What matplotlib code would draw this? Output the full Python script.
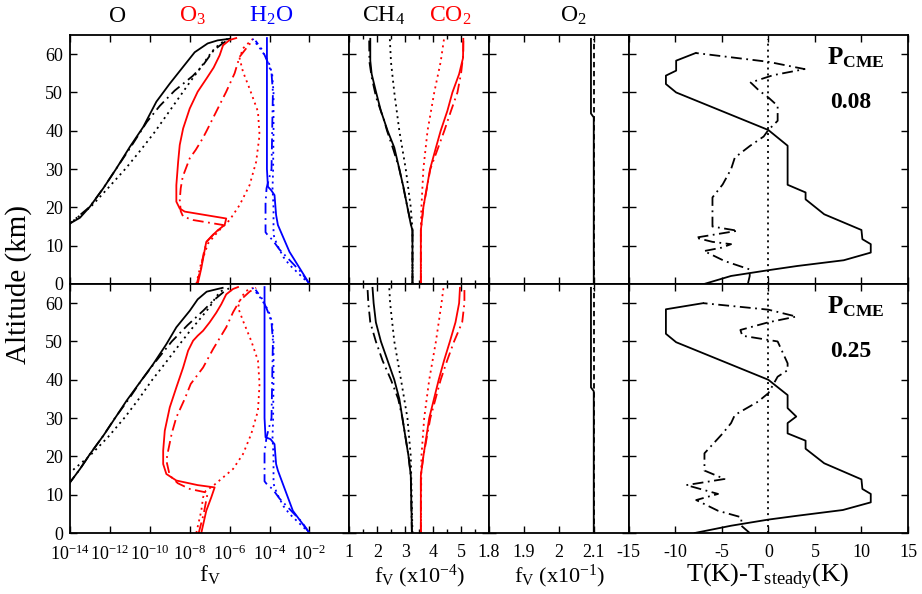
import numpy as np
import matplotlib
matplotlib.use("Agg")
import matplotlib.pyplot as plt
from matplotlib.ticker import MultipleLocator, FixedLocator, NullLocator

plt.rcParams['font.family'] = ['Liberation Serif', 'DejaVu Serif']
plt.rcParams['mathtext.fontset'] = 'custom'
plt.rcParams['mathtext.rm'] = 'Liberation Serif'
plt.rcParams['mathtext.it'] = 'Liberation Serif:italic'
plt.rcParams['mathtext.bf'] = 'Liberation Serif:bold'
plt.rcParams['axes.unicode_minus'] = False

# ---------------- data: top row (P_CME = 0.08) ----------------
# panel 1 (log10 of f_V)
t_O_sol_alt = [14.5, 15.8, 17.3, 20.2, 25, 30.2, 35.8, 41, 47.6, 52.3, 56.7, 60.5, 62.8, 63.6, 64]
t_O_sol_lg = [-14.3, -14, -13.5, -13, -12.33, -11.67, -11, -10.33, -9.67, -9, -8.33, -7.75, -7.1, -6.6, -6.0]
t_O_dd_alt = [14.5, 15.8, 20.2, 25, 30.2, 35.8, 42.3, 46.5, 50.5, 54.3, 57, 61, 62.8, 64]
t_O_dd_lg = [-14.3, -14, -13, -12.33, -11.67, -10.95, -10.15, -9.5, -8.75, -7.85, -7.35, -6.8, -6.35, -6.0]
t_O_dot_alt = [14.5, 15.8, 20.2, 25, 30.2, 35, 39.7, 44.5, 49.3, 53, 56.5, 59.5, 61.5, 63, 64]
t_O_dot_lg = [-14.3, -14, -12.95, -12.1, -11.2, -10.45, -9.75, -9.1, -8.45, -7.95, -7.45, -7.05, -6.75, -6.4, -6.1]

t_O3_sol_alt = [0, 4.1, 8, 11, 12.5, 14, 15.4, 17.1, 18.9, 19.7, 21.5, 25.8, 31.9, 36.3, 40.6, 45.8, 50.2, 53.7, 56.5, 59.7, 62.3, 63.7, 64.2]
t_O3_sol_lg = [-7.6, -7.42, -7.28, -7.17, -6.9, -6.6, -6.25, -6.17, -8.25, -8.5, -8.67, -8.67, -8.58, -8.5, -8.33, -8.0, -7.6, -7.15, -6.8, -6.5, -6.33, -6.0, -5.67]
t_O3_dd_alt = [0, 4, 8, 11, 13, 14.8, 15.4, 16.7, 17.6, 19, 22, 25, 28, 32.8, 35, 38, 40, 45, 50.2, 55, 59.3, 61.5, 63.7]
t_O3_dd_lg = [-7.65, -7.45, -7.3, -7.15, -6.8, -6.4, -6.33, -7.83, -8.33, -8.45, -8.5, -8.45, -8.35, -8.0, -7.7, -7.35, -7.15, -6.67, -6.17, -5.75, -5.5, -5.17, -4.83]
t_O3_dot_alt = [0, 5, 10.6, 13.7, 16.7, 20.6, 25.8, 31.9, 38.9, 45, 51, 55.4, 58.9, 61.5, 63.2, 64]
t_O3_dot_lg = [-7.67, -7.45, -7.08, -6.58, -6.0, -5.5, -5.0, -4.67, -4.5, -4.58, -5.0, -5.33, -5.5, -5.33, -5.0, -4.83]

t_H2O_sol_alt = [0, 2.8, 8.4, 15.4, 18, 23.2, 24.5, 25.4, 30, 45, 58.9, 64.2]
t_H2O_sol_lg = [-2.0, -2.33, -3.0, -3.58, -3.67, -3.75, -3.92, -4.08, -4.13, -4.13, -4.13, -4.13]
t_H2O_dd_alt = [0, 3, 6, 9, 11.5, 12.5, 13.5, 21, 25, 30, 45, 50, 55, 58, 61, 63.5]
t_H2O_dd_lg = [-2.0, -2.4, -2.95, -3.5, -3.85, -4.05, -4.2, -4.2, -4.15, -3.9, -3.85, -3.83, -3.9, -4.1, -4.35, -4.7]
t_H2O_dot_alt = [0, 3, 5, 7, 10, 12, 13, 20, 25, 30, 40, 50, 55, 58, 61, 63, 64]
t_H2O_dot_lg = [-2.0, -2.6, -3.0, -3.3, -3.6, -3.75, -3.8, -3.8, -3.85, -3.82, -3.8, -3.8, -3.87, -4.05, -4.4, -4.7, -4.85]

# panel 2 (x1e-4)
t_CH4_sol_alt = [0, 14, 15.6, 20, 25.2, 30, 35.6, 40, 45.2, 50, 54.8, 58.3, 64]
t_CH4_sol = [3.26, 3.26, 3.2, 3.08, 2.94, 2.79, 2.61, 2.37, 2.13, 1.96, 1.8, 1.75, 1.75]
t_CH4_dd_alt = [0, 14, 20, 25, 30, 35, 40, 42.6, 48.7, 54, 58, 64]
t_CH4_dd = [3.26, 3.26, 3.08, 2.94, 2.79, 2.58, 2.35, 2.25, 1.96, 1.8, 1.72, 1.71]
t_CH4_dot_alt = [0, 14, 20, 30, 40, 50, 58, 64]
t_CH4_dot = [3.26, 3.26, 3.2, 3.02, 2.79, 2.61, 2.49, 2.45]
t_CO2_sol_alt = [0, 14, 20, 30, 35.6, 40, 45.2, 50, 54.8, 59, 64]
t_CO2_sol = [3.56, 3.56, 3.65, 3.89, 4.1, 4.27, 4.51, 4.69, 4.93, 5.07, 5.08]
t_CO2_dd_alt = [0, 14, 20, 30, 35, 40, 45, 50, 55, 60, 64]
t_CO2_dd = [3.56, 3.56, 3.65, 3.9, 4.15, 4.4, 4.63, 4.87, 5.0, 5.08, 5.08]
t_CO2_dot_alt = [0, 14, 20, 30, 40, 50, 58, 64]
t_CO2_dot = [3.56, 3.56, 3.58, 3.65, 3.8, 4.04, 4.27, 4.39]

# panel 3 (x1e-1)
t_O2_sol_alt = [0, 43.5, 44.5, 64]
t_O2_sol = [2.1, 2.1, 2.092, 2.092]
t_O2_dot_alt = [0, 64]
t_O2_dot = [2.1, 2.1]

# panel 4 (K)
t_T_sol_alt = [0, 2.1, 3.6, 4.7, 6.2, 8.2, 10.4, 11.7, 14.1, 18.2, 22.1, 23.9, 25.9, 36.1, 40.2, 50, 52.2, 54.4, 55.7, 58.3, 60.3]
t_T_sol = [-6.9, -4, 0, 3.1, 8.1, 11, 11, 10.1, 10, 6, 4, 4, 2.07, 2.07, 0, -9.9, -11, -11, -9.9, -9.9, -7.8]
t_T_dd_alt = [0, 2.1, 3.8, 6, 8.6, 9.5, 10.4, 11, 12.1, 13.9, 15, 16.5, 22.6, 26, 30, 33, 36, 38.5, 40.2, 42.6, 46.5, 48.7, 50.5, 52.6, 54.5, 56.1, 58, 60.3]
t_T_dd = [-2.2, -2.0, -2.0, -4.7, -6.9, -5, -4, -6, -7.8, -3.3, -6, -6, -6, -4.9, -4, -3.6, -2, -0.5, 0, 1, 1, 0, -1, -1.9, 0.5, 3.9, 0, -7.8]
t_T_ref_alt = [0, 64]
t_T_ref = [0, 0]

# ---------------- data: bottom row (P_CME = 0.25) ----------------
b_O_sol_alt = [12.5, 13.2, 16.7, 20.6, 25.4, 29.3, 34.5, 39.3, 44.1, 49.3, 53.7, 58, 61, 63, 63.7, 64]
b_O_sol_lg = [-14.1, -14, -13.5, -13, -12.33, -11.83, -11.17, -10.5, -9.83, -9.17, -8.67, -8.0, -7.6, -7.15, -6.6, -6.35]
b_O_dd_alt = [12.5, 13.2, 16.7, 20.6, 25.4, 30, 35, 40, 45, 50, 54.3, 58, 60.6, 62.8, 64]
b_O_dd_lg = [-14.1, -14, -13.5, -13, -12.33, -11.75, -11.05, -10.4, -9.67, -8.9, -8.1, -7.33, -6.83, -6.33, -6.0]
b_O_dot_alt = [14.5, 15.8, 20.2, 25, 30.2, 35, 39.7, 44.5, 49.3, 53, 56.3, 59, 61.5, 62.8, 64]
b_O_dot_lg = [-14.3, -14, -13, -12.1, -11.25, -10.55, -9.92, -9.2, -8.5, -7.95, -7.42, -7.0, -6.7, -6.5, -6.2]

b_O3_sol_alt = [0, 5.8, 9.3, 11.9, 12.5, 13.7, 15.4, 18, 21.5, 26.7, 32.8, 38, 43.2, 47.6, 50.2, 51.5, 52.8, 55, 57.5, 59.7, 62.3, 63.7, 64.2]
b_O3_sol_lg = [-7.42, -7.17, -6.92, -6.75, -7.6, -8.67, -9.17, -9.33, -9.33, -9.25, -9.0, -8.67, -8.33, -8.08, -7.83, -7.6, -7.33, -7.0, -6.67, -6.42, -6.17, -5.83, -5.58]
b_O3_dd_alt = [0, 5, 10.5, 11.5, 13, 15, 18.9, 21.5, 26, 30.2, 35, 38.9, 43.2, 48, 53.7, 57.6, 60.6, 63, 64]
b_O3_dd_lg = [-7.55, -7.3, -7.1, -8.0, -8.6, -9.0, -9.17, -9.08, -8.9, -8.67, -8.25, -7.95, -7.33, -6.83, -6.17, -5.83, -5.5, -5.0, -4.67]
b_O3_dot_alt = [0, 5.8, 9.3, 11, 12.3, 14.5, 16.7, 20.6, 25.8, 31.9, 38.9, 45, 50.2, 55.4, 58.9, 61.5, 63.2, 64]
b_O3_dot_lg = [-7.67, -7.42, -7.33, -7.2, -6.83, -6.33, -5.83, -5.33, -4.92, -4.58, -4.5, -4.58, -4.92, -5.33, -5.58, -5.42, -5.17, -4.83]

b_H2O_sol_alt = [0, 5.8, 16.3, 18, 23.2, 24.5, 25, 30, 45, 60, 64.2]
b_H2O_sol_lg = [-2.0, -2.83, -3.58, -3.67, -3.75, -3.95, -4.2, -4.25, -4.25, -4.25, -4.25]
b_H2O_dd_alt = [0, 3, 6, 9, 11.5, 12.5, 13.5, 21, 25, 30, 45, 50, 55, 58, 61, 63.5]
b_H2O_dd_lg = [-2.0, -2.4, -2.95, -3.5, -3.85, -4.1, -4.25, -4.25, -4.15, -3.9, -3.85, -3.83, -3.9, -4.1, -4.35, -4.7]
b_H2O_dot_alt = [0, 3, 5, 7, 10, 12, 13, 20, 25, 30, 40, 50, 55, 58, 61, 63, 64]
b_H2O_dot_lg = [-2.0, -2.6, -3.0, -3.3, -3.6, -3.75, -3.8, -3.8, -3.85, -3.82, -3.8, -3.8, -3.87, -4.05, -4.4, -4.7, -4.85]

b_CH4_sol_alt = [0, 15, 20, 30, 35, 40, 45, 50, 55, 60, 64]
b_CH4_sol = [3.24, 3.2, 3.12, 2.9, 2.79, 2.61, 2.37, 2.13, 1.95, 1.87, 1.83]
b_CH4_dd_alt = [0, 15, 20, 30, 35, 40, 45, 50, 55, 60, 64]
b_CH4_dd = [3.24, 3.2, 3.12, 2.9, 2.75, 2.49, 2.19, 1.95, 1.75, 1.68, 1.65]
b_CH4_dot_alt = [0, 20, 30, 40, 50, 60, 64]
b_CH4_dot = [3.26, 3.2, 3.08, 2.85, 2.61, 2.46, 2.43]
b_CO2_sol_alt = [0, 15, 20, 30, 40, 45, 50, 55, 60, 64]
b_CO2_sol = [3.56, 3.56, 3.65, 3.86, 4.2, 4.39, 4.6, 4.8, 4.93, 4.96]
b_CO2_dd_alt = [0, 15, 20, 30, 40, 45, 50, 55, 60, 64]
b_CO2_dd = [3.56, 3.56, 3.65, 3.9, 4.27, 4.5, 4.75, 5.04, 5.12, 5.12]
b_CO2_dot_alt = [0, 20, 30, 40, 50, 60, 64]
b_CO2_dot = [3.56, 3.58, 3.68, 3.86, 4.1, 4.3, 4.37]

b_O2_sol_alt = [0, 37, 38, 64]
b_O2_sol = [2.1, 2.1, 2.092, 2.092]
b_O2_dot_alt = [0, 64]
b_O2_dot = [2.1, 2.1]

b_T_sol_alt = [0, 1.9, 3.5, 4.5, 6, 8, 10.2, 11.5, 14, 18.2, 22, 24.1, 26, 28.7, 30.4, 32.6, 36, 40, 49.8, 52, 58.4, 60]
b_T_sol = [-7.9, -4, 0, 3.1, 8, 11, 11, 10.1, 10, 6, 4, 4, 2.07, 2.07, 3, 2.07, 2.07, 0, -9.9, -11, -11, -7]
b_T_dd_alt = [0, 1.9, 4.1, 5.8, 8.6, 10.2, 12.5, 14.1, 16.3, 20.8, 26, 28.7, 30.8, 34.3, 36.5, 40.8, 42.5, 44.3, 50, 51.5, 53, 55, 56.5, 58.3, 60]
b_T_dd = [-2, -2.9, -2.9, -5.4, -7.75, -5.4, -8.8, -4.7, -6.86, -6.86, -4.9, -4, -3.6, -1.1, 0, 1, 2.07, 2.07, 1, -2.8, -3, 0, 3, 0, -7]
b_T_ref_alt = [0, 64]
b_T_ref = [0, 0]

# ---------------- styles ----------------
LW = 1.3
SOL = '-'
DD = (0, (6, 2.5, 1, 2.5))
DOT = (0, (1.1, 2.2))

fig = plt.figure(figsize=(9.22, 5.94), dpi=100)
gs = fig.add_gridspec(2, 4, width_ratios=[2, 1, 1, 2],
                      left=70/922, right=908/922, top=1-35/594, bottom=1-533/594,
                      wspace=0, hspace=0)

FS_TICK = 13


def style_axis(ax, bottom_row, first_col):
    ax.set_ylim(0, 65)
    ax.yaxis.set_major_locator(MultipleLocator(10))
    ax.yaxis.set_minor_locator(NullLocator())
    ax.tick_params(which='both', direction='in', top=True, right=True,
                   labelsize=FS_TICK, width=1.0)
    ax.tick_params(axis='x', pad=8)
    ax.tick_params(axis='y', pad=5)
    ax.tick_params(which='major', length=5)
    ax.tick_params(which='minor', length=3)
    if not first_col:
        ax.tick_params(labelleft=False)
    if not bottom_row:
        ax.tick_params(labelbottom=False)
    for s in ax.spines.values():
        s.set_linewidth(1.3)


rows = [
    dict(O=[(t_O_sol_lg, t_O_sol_alt, SOL), (t_O_dd_lg, t_O_dd_alt, DD), (t_O_dot_lg, t_O_dot_alt, DOT)],
         O3=[(t_O3_sol_lg, t_O3_sol_alt, SOL), (t_O3_dd_lg, t_O3_dd_alt, DD), (t_O3_dot_lg, t_O3_dot_alt, DOT)],
         H2O=[(t_H2O_sol_lg, t_H2O_sol_alt, SOL), (t_H2O_dd_lg, t_H2O_dd_alt, DD), (t_H2O_dot_lg, t_H2O_dot_alt, DOT)],
         CH4=[(t_CH4_sol, t_CH4_sol_alt, SOL), (t_CH4_dd, t_CH4_dd_alt, DD), (t_CH4_dot, t_CH4_dot_alt, DOT)],
         CO2=[(t_CO2_sol, t_CO2_sol_alt, SOL), (t_CO2_dd, t_CO2_dd_alt, DD), (t_CO2_dot, t_CO2_dot_alt, DOT)],
         O2=[(t_O2_sol, t_O2_sol_alt, SOL), (t_O2_dot, t_O2_dot_alt, (0, (3, 2)))],
         T=[(t_T_sol, t_T_sol_alt, SOL), (t_T_dd, t_T_dd_alt, DD), (t_T_ref, t_T_ref_alt, DOT)],
         label='0.08'),
    dict(O=[(b_O_sol_lg, b_O_sol_alt, SOL), (b_O_dd_lg, b_O_dd_alt, DD), (b_O_dot_lg, b_O_dot_alt, DOT)],
         O3=[(b_O3_sol_lg, b_O3_sol_alt, SOL), (b_O3_dd_lg, b_O3_dd_alt, DD), (b_O3_dot_lg, b_O3_dot_alt, DOT)],
         H2O=[(b_H2O_sol_lg, b_H2O_sol_alt, SOL), (b_H2O_dd_lg, b_H2O_dd_alt, DD), (b_H2O_dot_lg, b_H2O_dot_alt, DOT)],
         CH4=[(b_CH4_sol, b_CH4_sol_alt, SOL), (b_CH4_dd, b_CH4_dd_alt, DD), (b_CH4_dot, b_CH4_dot_alt, DOT)],
         CO2=[(b_CO2_sol, b_CO2_sol_alt, SOL), (b_CO2_dd, b_CO2_dd_alt, DD), (b_CO2_dot, b_CO2_dot_alt, DOT)],
         O2=[(b_O2_sol, b_O2_sol_alt, SOL), (b_O2_dot, b_O2_dot_alt, (0, (3, 2)))],
         T=[(b_T_sol, b_T_sol_alt, SOL), (b_T_dd, b_T_dd_alt, DD), (b_T_ref, b_T_ref_alt, DOT)],
         label='0.25'),
]

for r, row in enumerate(rows):
    bottom_row = (r == 1)
    # panel 1: log mixing ratios
    ax = fig.add_subplot(gs[r, 0])
    for key, col in (('O', 'black'), ('O3', 'red'), ('H2O', 'blue')):
        for lg, alt, ls in row[key]:
            ax.plot(10.0 ** np.array(lg), alt, color=col, lw=LW, linestyle=ls)
    ax.set_xscale('log')
    ax.set_xlim(1e-14, 1)
    ax.xaxis.set_major_locator(FixedLocator([10.0 ** e for e in range(-14, 1, 2)]))
    ax.xaxis.set_minor_locator(NullLocator())
    ax.set_xticklabels([r'$10^{%d}$' % e for e in range(-14, -1, 2)] + [''])
    style_axis(ax, bottom_row, True)
    ax.set_yticks(range(0, 61, 10))

    # panel 2: CH4 and CO2
    ax = fig.add_subplot(gs[r, 1])
    for key, col in (('CH4', 'black'), ('CO2', 'red')):
        for v, alt, ls in row[key]:
            ax.plot(v, alt, color=col, lw=LW, linestyle=ls)
    ax.set_xlim(1, 6)
    ax.set_xticks([1, 2, 3, 4, 5, 6])
    ax.set_xticklabels(['1', '2', '3', '4', '5', ''])
    ax.xaxis.set_minor_locator(MultipleLocator(0.5))
    style_axis(ax, bottom_row, False)

    # panel 3: O2
    ax = fig.add_subplot(gs[r, 2])
    for v, alt, ls in row['O2']:
        ax.plot(v, alt, color='black', lw=LW, linestyle=ls)
    ax.set_xlim(1.8, 2.2)
    ax.set_xticks([1.8, 1.9, 2.0, 2.1, 2.2])
    ax.set_xticklabels(['1.8', '1.9', '2', '2.1', ''])
    ax.xaxis.set_minor_locator(NullLocator())
    style_axis(ax, bottom_row, False)

    # panel 4: temperature difference
    ax = fig.add_subplot(gs[r, 3])
    for v, alt, ls in row['T']:
        ax.plot(v, alt, color='black', lw=LW, linestyle=ls)
    ax.set_xlim(-15, 15)
    ax.set_xticks([-15, -10, -5, 0, 5, 10, 15])
    ax.set_xticklabels(['-15', '-10', '-5', '0', '5', '10', '15'])
    ax.xaxis.set_minor_locator(NullLocator())
    style_axis(ax, bottom_row, False)
    ax.text(9.4, 59, r'$\mathbf{P}_{\mathbf{CME}}$', ha='center', va='center', fontsize=18)
    ax.text(8.8, 47.5, row['label'], ha='center', va='center', fontsize=17, fontweight='bold')

# species labels on top
H = 594.0
W = 922.0
fig.text(118/W, 1-16/H, 'O', color='black', ha='center', va='center', fontsize=17)
fig.text(192/W, 1-16/H, r'O$_3$', color='red', ha='center', va='center', fontsize=17)
fig.text(271/W, 1-16/H, r'H$_2$O', color='blue', ha='center', va='center', fontsize=17)
fig.text(384/W, 1-16/H, r'CH$_4$', color='black', ha='center', va='center', fontsize=17)
fig.text(450/W, 1-16/H, r'CO$_2$', color='red', ha='center', va='center', fontsize=17)
fig.text(573/W, 1-16/H, r'O$_2$', color='black', ha='center', va='center', fontsize=17)

# x labels
fig.text(210/W, 1-582/H, r'f$_{\rm V}$', ha='center', va='baseline', fontsize=17)
fig.text(420/W, 1-582/H, r'f$_{\rm V}$ (x10$^{-4}$)', ha='center', va='baseline', fontsize=16)
fig.text(560/W, 1-582/H, r'f$_{\rm V}$ (x10$^{-1}$)', ha='center', va='baseline', fontsize=16)
fig.text(768/W, 1-582/H, r'T(K)-T$_{\rm steady}$(K)', ha='center', va='baseline', fontsize=19)

fig.text(19/W, 1-284/H, 'Altitude (km)', rotation=90, ha='center', va='center', fontsize=21)

fig.savefig('out.png', dpi=100)
